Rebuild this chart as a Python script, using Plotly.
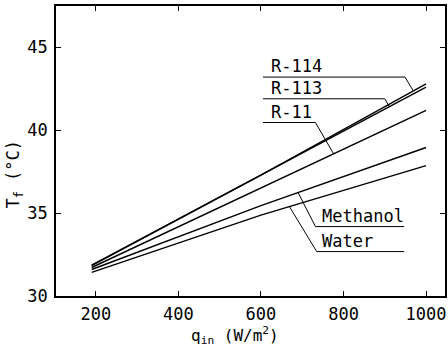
import numpy as np
import plotly.graph_objects as go

# Heat flux q_in (W/m^2) and fin temperature T_f (°C) for each working fluid
q_in = [190, 600, 1000]
t_r114 = [31.84, 37.30, 42.80]
t_r113 = [31.86, 37.28, 42.60]
t_r11 = [31.72, 36.52, 41.20]
t_methanol = [31.60, 35.45, 38.96]
t_water = [31.43, 34.88, 37.87]

series = [
    ("R-114", t_r114),
    ("R-113", t_r113),
    ("R-11", t_r11),
    ("Methanol", t_methanol),
    ("Water", t_water),
]

# label placement: text/underline start, underline end, leader target q, underline level
labels = {
    "R-114":    dict(x0=605, x1=949, qt=969, y=43.21, tx=619),
    "R-113":    dict(x0=605, x1=900, qt=911, y=41.90, tx=619),
    "R-11":     dict(x0=605, x1=732, qt=776, y=40.47, tx=619),
    "Methanol": dict(x0=947, x1=732, qt=690, y=34.19, tx=744),
    "Water":    dict(x0=947, x1=735, qt=669, y=32.68, tx=744),
}

FONT = "DejaVu Sans Mono"

fig = go.Figure()
for name, vals in series:
    fig.add_trace(go.Scatter(
        x=q_in, y=vals, mode="lines", name=name,
        line=dict(color="black", width=1.4),
        showlegend=False, hoverinfo="skip",
    ))

shapes = []
annotations = []
for name, vals in series:
    lab = labels[name]
    yt = float(np.interp(lab["qt"], q_in, vals))
    shapes.append(dict(type="line", xref="x", yref="y",
                       x0=lab["x0"], y0=lab["y"], x1=lab["x1"], y1=lab["y"],
                       line=dict(color="black", width=1)))
    shapes.append(dict(type="line", xref="x", yref="y",
                       x0=lab["x1"], y0=lab["y"], x1=lab["qt"], y1=yt,
                       line=dict(color="black", width=1)))
    annotations.append(dict(x=lab["tx"], y=lab["y"], xref="x", yref="y",
                            text=name, showarrow=False,
                            xanchor="left", yanchor="bottom",
                            yshift=-1,
                            font=dict(family=FONT, size=17, color="black")))

annotations.append(dict(x=-0.107, y=0.42, xref="paper", yref="paper",
                        text="T<sub>f</sub> (°C)", textangle=-90,
                        showarrow=False, xanchor="center", yanchor="middle",
                        font=dict(family=FONT, size=17, color="black")))
annotations.append(dict(x=0.46, y=-0.135, xref="paper", yref="paper",
                        text="q<sub>in</sub> (W/m<sup>2</sup>)",
                        showarrow=False, xanchor="center", yanchor="middle",
                        font=dict(family=FONT, size=16, color="black")))

axis_common = dict(
    showgrid=False, zeroline=False,
    showline=True, linecolor="black", linewidth=1.6, mirror="ticks",
    ticks="inside", ticklen=5, tickwidth=1.4, tickcolor="black",
    tickfont=dict(family=FONT, size=17, color="black"),
)

fig.update_layout(
    width=448, height=349,
    margin=dict(l=56, r=1, t=6, b=53),
    paper_bgcolor="white", plot_bgcolor="white",
    xaxis=dict(range=[103.6, 1045.8], tickvals=[200, 400, 600, 800, 1000],
               ticklabelstandoff=2, **axis_common),
    yaxis=dict(range=[30, 47.5], tickvals=[30, 35, 40, 45],
               ticklabelstandoff=3, **axis_common),
    shapes=shapes,
    annotations=annotations,
)

fig.write_html("out.html")
